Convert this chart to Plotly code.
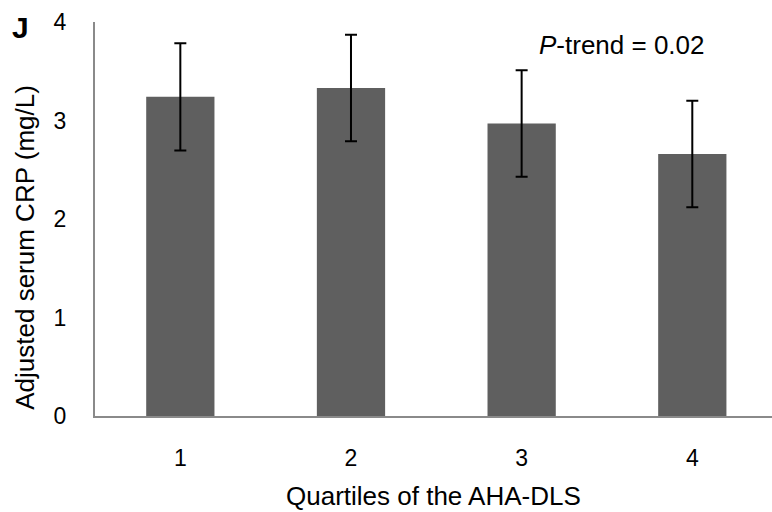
import plotly.graph_objects as go

quartiles = [1, 2, 3, 4]
tick_labels = ["1", "2", "3", "4"]
crp_means = [3.24, 3.33, 2.97, 2.66]
crp_errors = [0.545, 0.54, 0.54, 0.54]

fig = go.Figure()
fig.add_trace(go.Bar(
    x=quartiles,
    y=crp_means,
    width=0.4,
    marker=dict(color="#5f5f5f", line=dict(width=0)),
    error_y=dict(type="data", array=crp_errors, visible=True,
                 color="black", thickness=2, width=6),
))

font_family = "Liberation Sans, Arial, sans-serif"

fig.update_layout(
    width=772, height=512,
    margin=dict(l=95, r=0, t=22, b=96, autoexpand=False),
    plot_bgcolor="white", paper_bgcolor="white",
    showlegend=False,
    font=dict(family=font_family, color="black"),
    xaxis=dict(
        range=[0.5, 4.467], automargin=False,
        tickvals=quartiles, ticktext=tick_labels,
        showgrid=False, zeroline=False,
        showline=True, linecolor="#8a8a8a", linewidth=2,
        ticks="", ticklabelstandoff=20,
        tickfont=dict(size=23, family=font_family, color="black"),
    ),
    yaxis=dict(
        range=[0, 4], tickvals=[0, 1, 2, 3, 4], automargin=False,
        showgrid=False, zeroline=False,
        showline=True, linecolor="#8a8a8a", linewidth=2,
        ticks="", ticklabelstandoff=22,
        tickfont=dict(size=23, family=font_family, color="black"),
    ),
    annotations=[
        dict(text="Quartiles of the AHA-DLS", xref="paper", yref="paper",
             x=0.5, y=0, yshift=-80, xanchor="center", yanchor="middle",
             showarrow=False, font=dict(size=26, family=font_family, color="black")),
        dict(text="Adjusted serum CRP (mg/L)", xref="paper", yref="paper",
             x=0, xshift=-70, y=0.427, xanchor="center", yanchor="middle",
             textangle=-90,
             showarrow=False, font=dict(size=26, family=font_family, color="black")),
        dict(text="<i>P</i>-trend = 0.02", xref="paper", yref="paper",
             x=0.779, y=0.9416, xanchor="center", yanchor="middle",
             showarrow=False, font=dict(size=26, family=font_family, color="black")),
        dict(text="<b>J</b>", xref="paper", yref="paper",
             x=0, xshift=-75, y=1, yshift=-5, xanchor="center", yanchor="middle",
             showarrow=False, font=dict(size=30, family=font_family, color="black")),
    ],
)

fig.write_html(
    "out.html",
    config={"displayModeBar": False},
    post_script="document.body.style.margin='0';document.body.style.overflow='hidden';",
)
